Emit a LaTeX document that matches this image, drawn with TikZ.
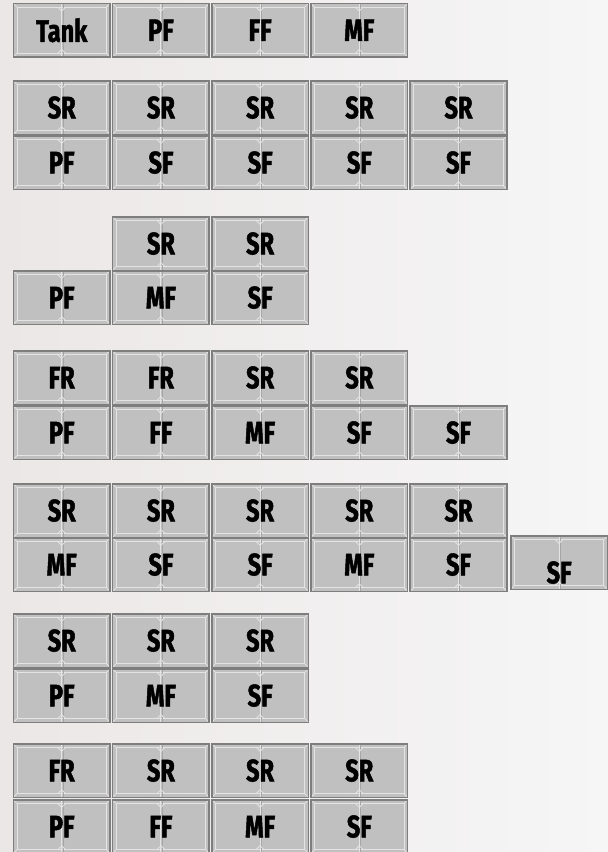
\documentclass[tikz,border=0pt]{standalone}
\usepackage{fontspec}
\newfontfamily\cellfontfam[FakeStretch=0.76,FakeBold=1.6]{Fira Sans}
\usetikzlibrary{calc}
\definecolor{cellfill}{HTML}{C0C0C0}
\definecolor{cellborder}{HTML}{7E7E7E}
\definecolor{innerlight}{HTML}{E4E4E4}
\definecolor{bgleft}{HTML}{ECE7E7}
\definecolor{bgright}{HTML}{F6F6F6}
\tikzset{
  innerline/.style={draw=innerlight, line width=0.8pt},
  cellbox/.style={draw=cellborder, line width=1.6pt, fill=cellfill,
    minimum width=96.6pt, minimum height=53.5pt, inner sep=0pt,
    anchor=north west, text=black,
    font=\cellfontfam\bfseries\fontsize{31}{31}\selectfont,
    path picture={
      \draw[innerline] ($(path picture bounding box.north west)+(3.6pt,-3.6pt)$) rectangle ($(path picture bounding box.south east)+(-3.6pt,3.6pt)$);
      \draw[innerline] (path picture bounding box.north west) -- ++(3.6pt,-3.6pt);
      \draw[innerline] (path picture bounding box.north east) -- ++(-3.6pt,-3.6pt);
      \draw[innerline] (path picture bounding box.south west) -- ++(3.6pt,3.6pt);
      \draw[innerline] (path picture bounding box.south east) -- ++(-3.6pt,3.6pt);
      \draw[draw=innerlight, line width=1.1pt] (path picture bounding box.north) -- (path picture bounding box.south);
      \draw[draw=gray!70, line width=0.4pt] ($(path picture bounding box.north)+(1.1pt,0)$) -- ($(path picture bounding box.south)+(1.1pt,0)$);
      \draw[innerline] ($(path picture bounding box.north)+(-4pt,-3.6pt)$) -- ++(4pt,-4pt) -- ++(4pt,4pt);
      \draw[innerline] ($(path picture bounding box.south)+(-4pt,3.6pt)$) -- ++(4pt,4pt) -- ++(4pt,-4pt);
    }},
  lbl/.style={text=black, inner sep=0pt, font=\cellfontfam\bfseries\fontsize{31}{31}\selectfont}
}
\begin{document}
\begin{tikzpicture}[x=1pt,y=-1pt]
\useasboundingbox (0,0) rectangle (608,852);
\shade[left color=bgleft, right color=bgright] (0,0) rectangle (608,852);
% column left edges: 12.6 + 99.2*(i-1)
\foreach \t [count=\i] in {Tank,PF,FF,MF}
  \node[cellbox] (a\i) at ({12.6+99.2*(\i-1)},2.7) {\t};
\foreach \t [count=\i] in {SR,SR,SR,SR,SR}
  \node[cellbox] (b\i) at ({12.6+99.2*(\i-1)},80) {\t};
\foreach \t [count=\i] in {PF,SF,SF,SF,SF}
  \node[cellbox] (c\i) at ({12.6+99.2*(\i-1)},135) {\t};
\foreach \t [count=\i] in {SR,SR}
  \node[cellbox] (d\i) at ({12.6+99.2*\i},216) {\t};
\foreach \t [count=\i] in {PF,MF,SF}
  \node[cellbox] (e\i) at ({12.6+99.2*(\i-1)},270) {\t};
\foreach \t [count=\i] in {FR,FR,SR,SR}
  \node[cellbox] (f\i) at ({12.6+99.2*(\i-1)},350) {\t};
\foreach \t [count=\i] in {PF,FF,MF,SF,SF}
  \node[cellbox] (g\i) at ({12.6+99.2*(\i-1)},405) {\t};
\foreach \t [count=\i] in {SR,SR,SR,SR,SR}
  \node[cellbox] (h\i) at ({12.6+99.2*(\i-1)},483) {\t};
\foreach \t [count=\i] in {MF,SF,SF,MF,SF}
  \node[cellbox] (i\i) at ({12.6+99.2*(\i-1)},537) {\t};
\node[cellbox] (extra) at (510,535) {};
\node[lbl] (extralbl) at ([yshift=-10pt]extra.center) {SF};
\foreach \t [count=\i] in {SR,SR,SR}
  \node[cellbox] (j\i) at ({12.6+99.2*(\i-1)},613) {\t};
\foreach \t [count=\i] in {PF,MF,SF}
  \node[cellbox] (k\i) at ({12.6+99.2*(\i-1)},668) {\t};
\foreach \t [count=\i] in {FR,SR,SR,SR}
  \node[cellbox] (l\i) at ({12.6+99.2*(\i-1)},743) {\t};
\foreach \t [count=\i] in {PF,FF,MF,SF}
  \node[cellbox] (m\i) at ({12.6+99.2*(\i-1)},799) {\t};
\end{tikzpicture}
\end{document}
